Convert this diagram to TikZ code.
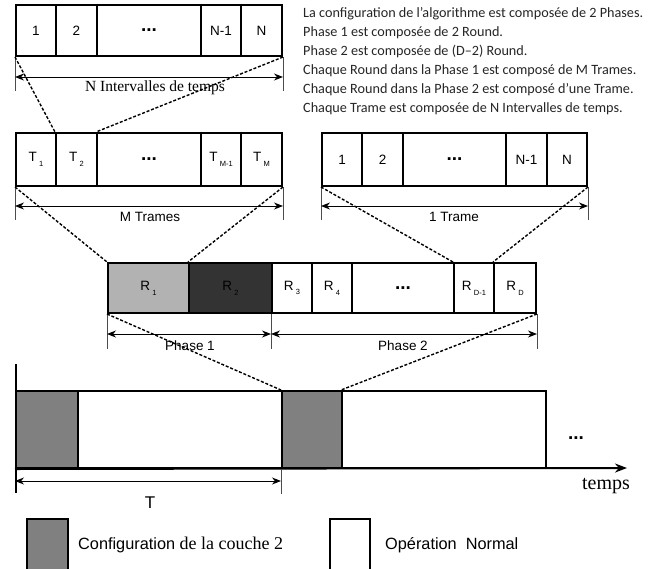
\documentclass[tikz,border=0pt]{standalone}
\usepackage{fontspec}
\setmainfont{Liberation Sans}
\newfontfamily\tmsfont{Liberation Serif}
\newfontfamily\calfont{Carlito}
\usetikzlibrary{arrows.meta}
\newcommand\sbs[1]{\,\raisebox{-0.35em}{\fontsize{7.5}{7.5}\selectfont #1}}
\begin{document}
\begin{tikzpicture}[x=1pt,y=-1pt,
  cell/.style={draw, line width=2pt, inner sep=0pt, font=\fontsize{13.5}{14}\selectfont},
  r1/.style={cell, minimum height=51pt},
  r2/.style={cell, minimum height=53pt},
  r3/.style={cell, minimum height=50pt},
  r4/.style={cell, minimum height=77pt},
  dots/.style={font=\bfseries\fontsize{19}{19}\selectfont},
  dimline/.style={line width=1pt, {Stealth[length=9pt,width=7pt]}-{Stealth[length=9pt,width=7pt]}},
  tickline/.style={line width=0.8pt, black!70},
  zoomline/.style={line width=1.4pt, dash pattern=on 3pt off 1.8pt},
  lbl/.style={font=\fontsize{13.5}{14}\selectfont, inner sep=0pt},
  serlbl/.style={font=\tmsfont\fontsize{15.5}{16}\selectfont, inner sep=0pt},
]
\useasboundingbox (0,0) rectangle (658,568);
\fill[white] (0,0) rectangle (658,568);

% ---------- row 1: N intervals ----------
\node[r1, minimum width=40pt]  (a1) at (36,30.5) {1};
\node[r1, minimum width=41pt]  (a2) at (76.5,30.5) {2};
\node[r1, minimum width=104pt, dots] (a3) at (149,30.5) {...};
\node[r1, minimum width=40pt]  (a4) at (221,30.5) {N-1};
\node[r1, minimum width=41pt]  (a5) at (261.5,30.5) {N};
\draw[tickline] (a1.south west) -- ++(0,34);
\draw[tickline] (a5.south east) -- ++(0,34);
\draw[dimline] (a1.south west |- 0,77) -- (a5.south east |- 0,77);
\node[serlbl] (la) at (155,88) {N Intervalles de temps};

% ---------- text ----------
\node[anchor=north west, align=left, inner sep=0pt, text=black!85,
      font=\calfont\fontsize{14.2}{19}\selectfont] (txt) at (303,7)
{La configuration de l’algorithme est composée de 2 Phases.\\
Phase 1 est composée de 2 Round.\\
Phase 2 est composée de (D–2) Round.\\
Chaque Round dans la Phase 1 est composé de M Trames.\\
Chaque Round dans la Phase 2 est composé d’une Trame.\\
Chaque Trame est composée de N Intervalles de temps.};

% ---------- row 2 left: M frames ----------
\node[r2, minimum width=40pt]  (t1) at (36,159.5) {T\sbs{1}};
\node[r2, minimum width=41pt]  (t2) at (76.5,159.5) {T\sbs{2}};
\node[r2, minimum width=104pt, dots] (t3) at (149,159.5) {...};
\node[r2, minimum width=40pt]  (t4) at (221,159.5) {T\sbs{M-1}};
\node[r2, minimum width=41pt]  (t5) at (261.5,159.5) {T\sbs{M}};
\draw[tickline] (t1.south west) -- ++(0,33);
\draw[tickline] (t5.south east) -- ++(0,33);
\draw[dimline] (t1.south west |- 0,206) -- (t5.south east |- 0,206);
\node[lbl] (lt) at (150,217) {M Trames};

% ---------- row 2 right: 1 frame ----------
\node[r2, minimum width=40pt]  (b1) at (342,159.5) {1};
\node[r2, minimum width=41pt]  (b2) at (382.5,159.5) {2};
\node[r2, minimum width=103pt, dots] (b3) at (454.5,159.5) {...};
\node[r2, minimum width=41pt]  (b4) at (526.5,159.5) {N-1};
\node[r2, minimum width=40pt]  (b5) at (567,159.5) {N};
\draw[tickline] (b1.south west) -- ++(0,33);
\draw[tickline] (b5.south east) -- ++(0,33);
\draw[dimline] (b1.south west |- 0,206) -- (b5.south east |- 0,206);
\node[lbl] (lb) at (454,217) {1 Trame};

% ---------- row 3: rounds ----------
\node[r3, minimum width=81pt, fill=black!30] (c1) at (148.5,288) {R\sbs{1}};
\node[r3, minimum width=83pt, fill=black!80] (c2) at (230.5,288) {R\sbs{2}};
\node[r3, minimum width=40pt]  (c3) at (292,288) {R\sbs{3}};
\node[r3, minimum width=40pt]  (c4) at (332,288) {R\sbs{4}};
\node[r3, minimum width=102pt, dots] (c5) at (403,288) {...};
\node[r3, minimum width=40pt]  (c6) at (474,288) {R\sbs{D-1}};
\node[r3, minimum width=42pt]  (c7) at (515,288) {R\sbs{D}};
\draw[tickline] (c1.south west) -- ++(0,35);
\draw[tickline] (c3.south west) -- ++(0,35);
\draw[tickline] (c7.south east) -- ++(0,35);
\draw[dimline] (c1.south west |- 0,334) -- (c3.south west |- 0,334);
\draw[dimline] (c3.south west |- 0,334) -- (c7.south east |- 0,334);
\node[lbl] (lp1) at (190,346) {Phase 1};
\node[lbl] (lp2) at (403,346) {Phase 2};

% ---------- row 4: time line ----------
\node[r4, minimum width=62pt, fill=black!50] (d1) at (47,429.5) {};
\node[r4, minimum width=204pt] (d2) at (180,429.5) {};
\node[r4, minimum width=60pt, fill=black!50] (d3) at (312,429.5) {};
\node[r4, minimum width=204pt] (d4) at (444,429.5) {};
\coordinate (vtop) at (16,364);
\coordinate (vbot) at (16,493);
\coordinate (axend) at (627,468);
\draw[line width=1.2pt] (vtop) -- (vbot);
\draw[line width=2pt, -{Stealth[length=12pt,width=9pt]}] (d1.south west) -- (axend);
\draw[tickline] (d3.south west) -- ++(0,25);
\draw[dimline] (d1.south west |- 0,481) -- (d3.south west |- 0,481);
\node[font=\fontsize{17}{17}\selectfont, inner sep=0pt] (lT) at (150,503) {T};
\node[dots, inner sep=0pt] (more) at (576,438) {...};
\node[font=\tmsfont\fontsize{20}{20}\selectfont, inner sep=0pt] (ltemps) at (606,486) {temps};

% ---------- zoom lines ----------
\draw[zoomline] (a1.south west) -- (t2.north west);
\draw[zoomline] (a5.south east) -- (t3.north west);
\draw[zoomline] (t1.south west) -- (c1.north west);
\draw[zoomline] (t5.south east) -- (c2.north west);
\draw[zoomline] (b1.south west) -- (c6.north west);
\draw[zoomline] (b5.south east) -- (c7.north west);
\draw[zoomline] (c1.south west) -- (d3.north west);
\draw[zoomline] (c7.south east) -- (d4.north west);

% ---------- legend ----------
\draw[line width=2pt, fill=black!50] (27,519) rectangle (68,575);
\node[anchor=west, inner sep=0pt] (lg1) at (78,545)
  {\fontsize{16.3}{17}\selectfont Configuration {\tmsfont\fontsize{18}{18}\selectfont de la couche 2}};
\draw[line width=2pt] (330,519) rectangle (370,575);
\node[anchor=west, inner sep=0pt, font=\fontsize{16.3}{17}\selectfont] (lg2) at (385,545) {Opération\ \ Normal};
\end{tikzpicture}
\end{document}
